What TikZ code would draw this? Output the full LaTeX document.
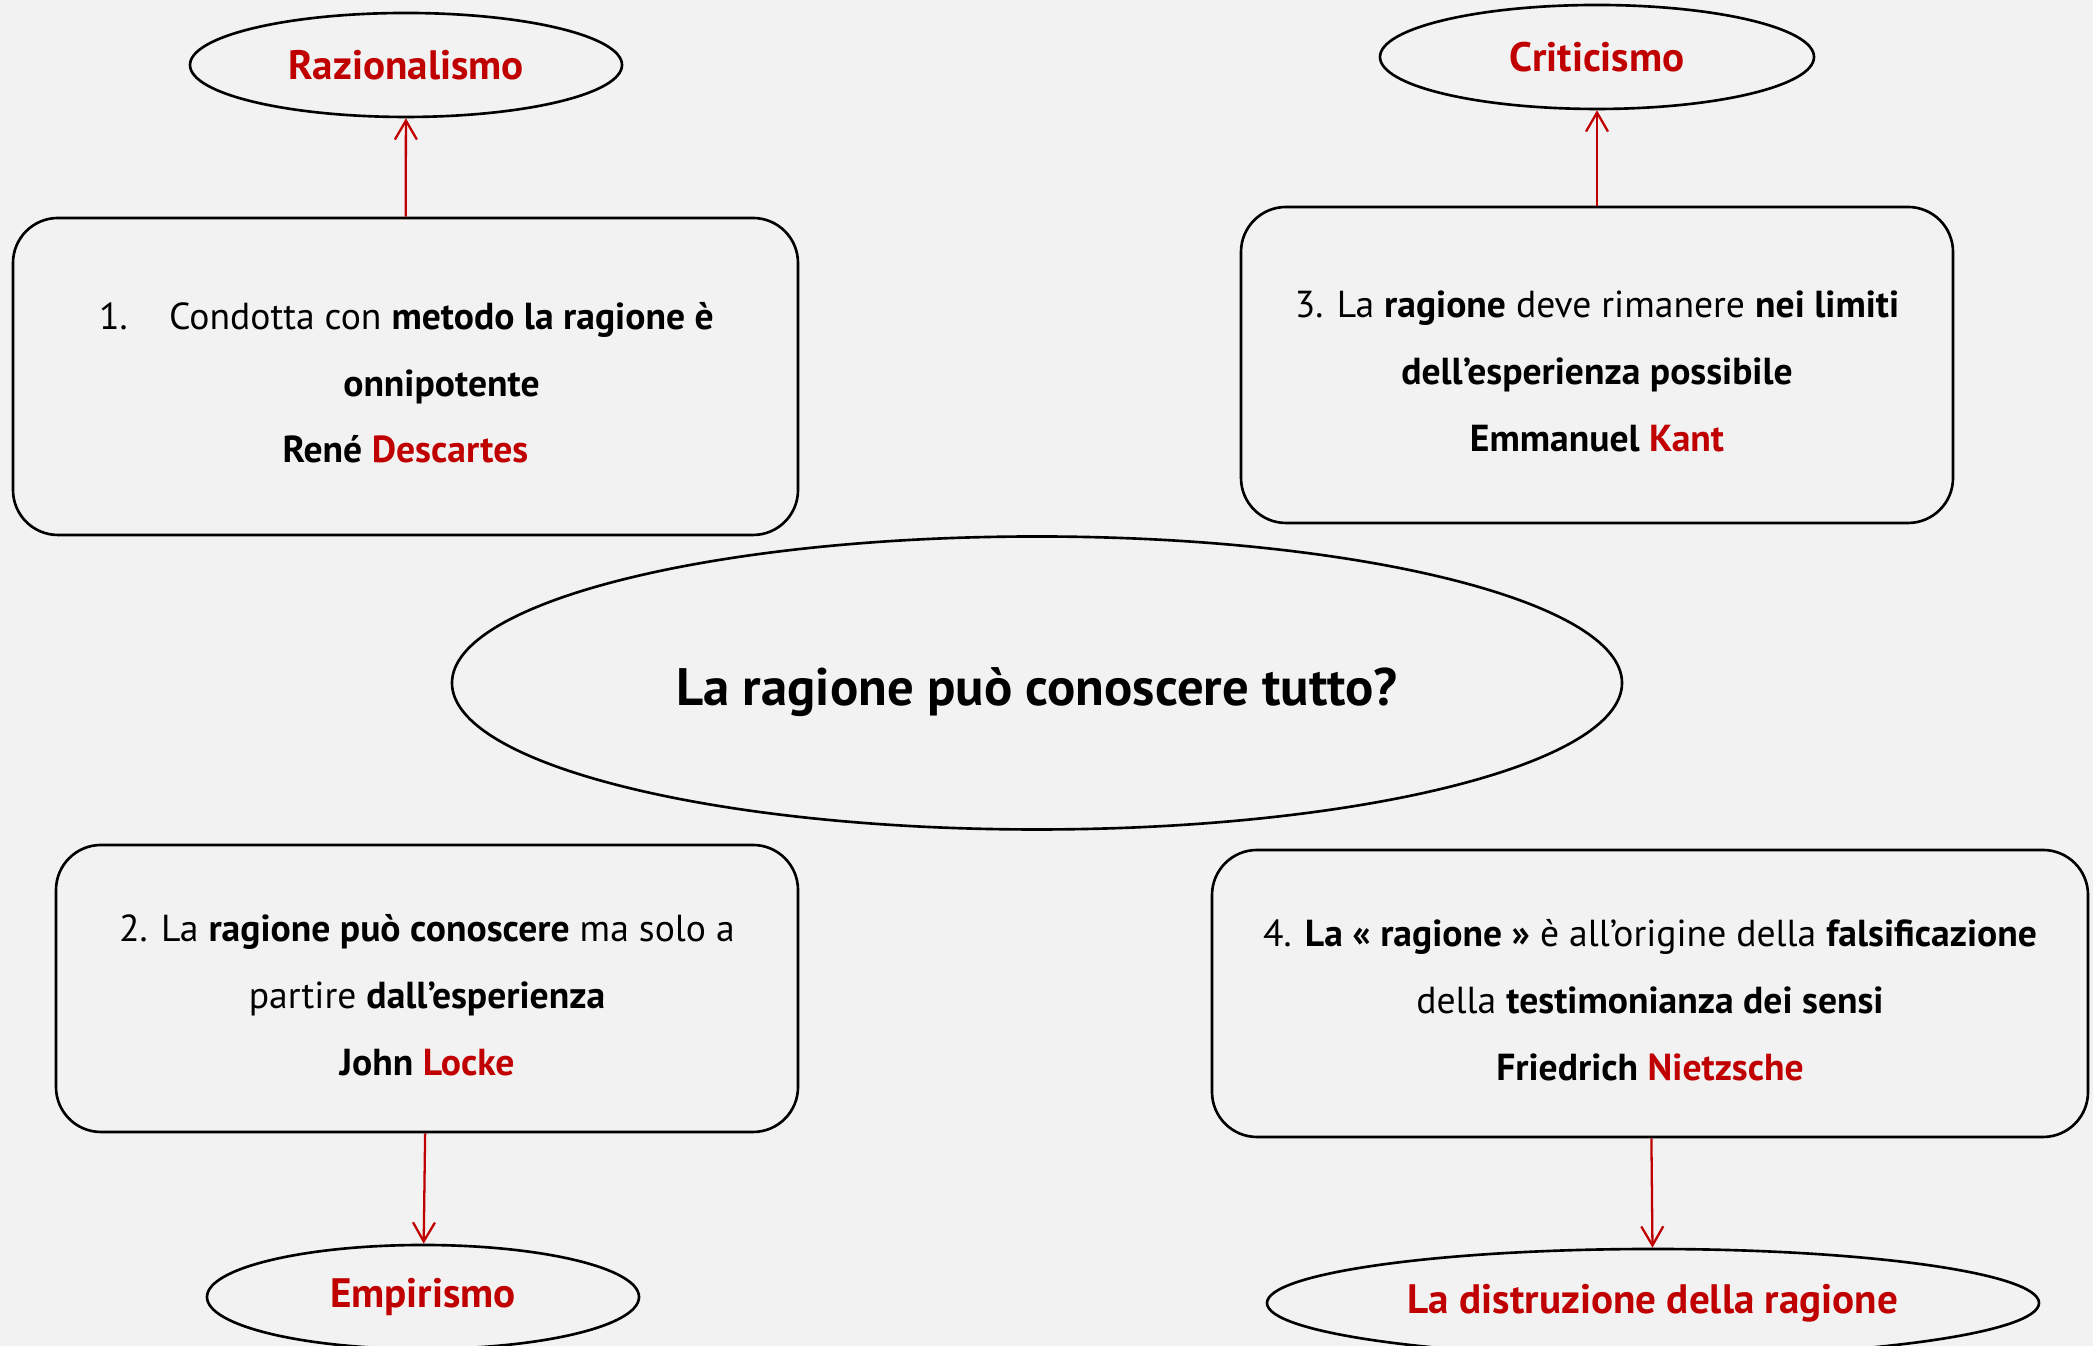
\documentclass[tikz,border=0pt]{standalone}
\usepackage{fontspec}
\setmainfont{PT Sans}
\usepackage{tikz}
\usetikzlibrary{arrows.meta}
\usetikzlibrary{shapes.geometric}
\definecolor{rosso}{HTML}{C00000}
\definecolor{sfondo}{HTML}{F2F2F2}
\newcommand{\autore}[1]{\textcolor{rosso}{#1}}
\newcommand{\alza}{\rule{0pt}{0.40cm}}
\tikzstyle{casella} = [draw, line width=0.75pt, rounded corners=0.45cm, align=center, inner sep=0pt, font=\fontsize{10.7}{19}\selectfont]
\tikzstyle{corrente} = [draw, ellipse, line width=0.75pt, inner sep=0pt, text=rosso, font=\bfseries\fontsize{11.7}{14}\selectfont]
\tikzstyle{freccia} = [rosso, line width=0.65pt, -{Straight Barb[length=0.19cm, width=0.22cm]}]

\begin{document}
\begin{tikzpicture}
	\useasboundingbox[fill=sfondo] (0, 0) rectangle (20.93, 13.46);
	
	\node[corrente, text=black, font=\bfseries\fontsize{15}{17}\selectfont, minimum width=11.7cm, minimum height=2.93cm](dom) at (10.37, 6.63){\rule{0pt}{0.56cm}La ragione può conoscere tutto?};
	
	\node[casella, minimum width=7.85cm, minimum height=3.17cm](rag1) at (4.055, 9.695){\alza\hspace*{0.72cm}\llap{\makebox[0.7cm][l]{1.}}Condotta con \textbf{metodo la ragione è}\\ \hspace*{0.72cm}\textbf{onnipotente}\\ \textbf{René \autore{Descartes}}};
	\node[casella, minimum width=7.42cm, minimum height=2.87cm](rag2) at (4.27, 3.575){\alza 2. La \textbf{ragione può conoscere} ma solo a\\ partire \textbf{dall’esperienza}\\ \textbf{John \autore{Locke}}};
	\node[casella, minimum width=7.12cm, minimum height=3.16cm](rag3) at (15.97, 9.81){\alza 3. La \textbf{ragione} deve rimanere \textbf{nei limiti}\\ \textbf{dell’esperienza possibile}\\ \textbf{Emmanuel \autore{Kant}}};
	\node[casella, minimum width=8.76cm, minimum height=2.87cm](rag4) at (16.50, 3.525){\alza 4. \textbf{La « ragione »} è all’origine della \textbf{falsificazione}\\ della \textbf{testimonianza dei sensi}\\ \textbf{Friedrich \autore{Nietzsche}}};
	
	\node[corrente, minimum width=4.32cm, minimum height=1.04cm](raz) at (4.06, 12.81){Razionalismo};
	\node[corrente, minimum width=4.34cm, minimum height=1.04cm](cri) at (15.97, 12.89){Criticismo};
	\node[corrente, minimum width=4.32cm, minimum height=1.04cm](emp) at (4.23, 0.49){Empirismo};
	\node[corrente, minimum width=7.72cm, minimum height=1.08cm](dis) at (16.53, 0.43){La distruzione della ragione};
	
	\draw[freccia](rag1) -- (raz);
	\draw[freccia](rag3) -- (cri);
	\draw[freccia](rag2) -- (emp);
	\draw[freccia](rag4) -- (dis);
\end{tikzpicture}
\end{document}
